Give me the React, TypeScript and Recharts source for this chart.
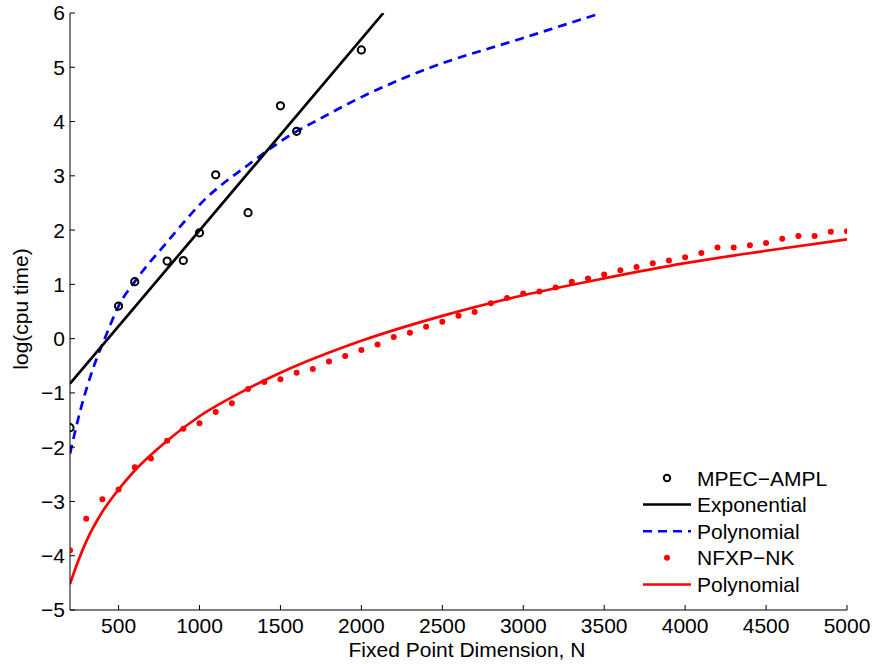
import { ComposedChart, Line, Scatter, XAxis, YAxis, Legend } from 'recharts'

const xTicks = [500, 1000, 1500, 2000, 2500, 3000, 3500, 4000, 4500, 5000]
const yTicks = [-5, -4, -3, -2, -1, 0, 1, 2, 3, 4, 5, 6]

// MPEC-AMPL observations
const mpecN = [200, 500, 600, 800, 900, 1000, 1100, 1300, 1500, 1600, 2000]
const mpecTime = [-1.64, 0.6, 1.05, 1.43, 1.44, 1.95, 3.02, 2.32, 4.29, 3.82, 5.32]

// exponential fit (straight in log scale)
const expFitN = [200, 2136]
const expFitTime = [-0.83, 6]

// polynomial fit for MPEC-AMPL
const mpecPolyN = [200, 264, 346, 428, 500, 600, 800, 1035, 1300, 1600, 1700, 2000, 2238, 2423, 3000, 3472]
const mpecPolyTime = [-2.12, -1.32, -0.52, 0.1, 0.6, 1.05, 1.78, 2.57, 3.2, 3.82, 3.98, 4.45, 4.77, 4.99, 5.54, 5.99]

// NFXP-NK observations
const nfxpN = [
  200, 300, 400, 500, 600, 700, 800, 900, 1000, 1100, 1200, 1300, 1400, 1500, 1600, 1700, 1800,
  1900, 2000, 2100, 2200, 2300, 2400, 2500, 2600, 2700, 2800, 2900, 3000, 3100, 3200, 3300, 3400,
  3500, 3600, 3700, 3800, 3900, 4000, 4100, 4200, 4300, 4400, 4500, 4600, 4700, 4800, 4900, 5000,
]
const nfxpTime = [
  -3.9, -3.32, -2.96, -2.78, -2.37, -2.21, -1.88, -1.66, -1.56, -1.35, -1.19, -0.93, -0.8, -0.75,
  -0.63, -0.56, -0.42, -0.32, -0.21, -0.11, 0.03, 0.11, 0.22, 0.31, 0.42, 0.49, 0.65, 0.75, 0.83,
  0.87, 0.94, 1.05, 1.11, 1.18, 1.26, 1.32, 1.39, 1.44, 1.5, 1.58, 1.68, 1.68, 1.72, 1.76, 1.84,
  1.89, 1.89, 1.97, 1.98,
]

// polynomial fit for NFXP-NK
const nfxpPolyN = [200, 250, 300, 400, 500, 600, 800, 1000, 1250, 1500, 2000, 2500, 3000, 3500, 4000, 4500, 5000]
const nfxpPolyTime = [-4.52, -4.1, -3.74, -3.19, -2.78, -2.43, -1.88, -1.43, -1.0, -0.63, -0.04, 0.42, 0.8, 1.11, 1.39, 1.62, 1.83]

const FONT = '"Liberation Sans", Arial, Helvetica, sans-serif'

const toPoints = (ns: number[], ts: number[]) => ns.map((n, i) => ({ n, t: ts[i] }))

const fmt = (v: number) => (v < 0 ? '\u2212' + Math.abs(v) : String(v))

const OpenCircle = (props: any) => (
  <circle cx={props.cx} cy={props.cy} r={3.6} fill="none" stroke="#000" strokeWidth={2} />
)

const RedDot = (props: any) => <circle cx={props.cx} cy={props.cy} r={3} fill="#ff0000" />

const legendRows = [
  { label: 'MPEC\u2212AMPL', kind: 'circle', color: '#000' },
  { label: 'Exponential', kind: 'line', color: '#000' },
  { label: 'Polynomial', kind: 'dash', color: '#0000ff' },
  { label: 'NFXP\u2212NK', kind: 'dot', color: '#ff0000' },
  { label: 'Polynomial', kind: 'line', color: '#ff0000' },
]

const LegendBox = () => (
  <svg width={230} height={140} style={{ display: 'block' }}>
    {legendRows.map((r, i) => {
      const y = 16 + i * 26.6
      return (
        <g key={i}>
          {r.kind === 'circle' && <circle cx={37} cy={y} r={3.2} fill="none" stroke={r.color} strokeWidth={2} />}
          {r.kind === 'dot' && <circle cx={37} cy={y} r={3} fill={r.color} />}
          {r.kind === 'line' && <line x1={13} x2={61} y1={y} y2={y} stroke={r.color} strokeWidth={2.5} />}
          {r.kind === 'dash' && (
            <line x1={13} x2={61} y1={y} y2={y} stroke={r.color} strokeWidth={2.5} strokeDasharray="9 6" />
          )}
          <text x={67} y={y} dominantBaseline="central" fontSize={21} fontFamily={FONT} fill="#000">
            {r.label}
          </text>
        </g>
      )
    })}
  </svg>
)

export default function App() {
  return (
    <div style={{ position: 'absolute', left: 0, top: 0, background: '#fff' }}>
      <ComposedChart width={875} height={664} margin={{ top: 13, right: 28, bottom: 28, left: 30 }}>
        <XAxis
          type="number"
          dataKey="n"
          domain={[200, 5000]}
          ticks={xTicks}
          allowDataOverflow
          height={26}
          tickSize={-5}
          tickMargin={13}
          stroke="#000"
          tick={{ fill: '#000', fontSize: 21, fontFamily: FONT }}
          label={{
            content: () => (
              <text x={467} y={657} textAnchor="middle" fontSize={21} fontFamily={FONT} fill="#000">
                Fixed Point Dimension, N
              </text>
            ),
          }}
        />
        <YAxis
          type="number"
          dataKey="t"
          domain={[-5, 6]}
          ticks={yTicks}
          allowDataOverflow
          width={40}
          tickSize={-5}
          tickMargin={10}
          stroke="#000"
          tickFormatter={fmt}
          tick={{ fill: '#000', fontSize: 21, fontFamily: FONT }}
          label={{
            content: () => (
              <text
                x={28}
                y={309}
                transform="rotate(-90 28 309)"
                textAnchor="middle"
                fontSize={21}
                fontFamily={FONT}
                fill="#000"
              >
                log(cpu time)
              </text>
            ),
          }}
        />
        <Line
          data={toPoints(mpecPolyN, mpecPolyTime)}
          dataKey="t"
          type="monotone"
          stroke="#0000ff"
          strokeWidth={2.7}
          strokeDasharray="9 6"
          dot={false}
          activeDot={false}
          isAnimationActive={false}
        />
        <Line
          data={toPoints(expFitN, expFitTime)}
          dataKey="t"
          type="linear"
          stroke="#000"
          strokeWidth={2.7}
          dot={false}
          activeDot={false}
          isAnimationActive={false}
        />
        <Line
          data={toPoints(nfxpPolyN, nfxpPolyTime)}
          dataKey="t"
          type="monotone"
          stroke="#ff0000"
          strokeWidth={2.7}
          dot={false}
          activeDot={false}
          isAnimationActive={false}
        />
        <Scatter data={toPoints(nfxpN, nfxpTime)} dataKey="t" shape={RedDot} isAnimationActive={false} />
        <Scatter data={toPoints(mpecN, mpecTime)} dataKey="t" shape={OpenCircle} isAnimationActive={false} />
        <Legend
          layout="horizontal"
          align="center"
          verticalAlign="middle"
          content={() => <LegendBox />}
          wrapperStyle={{ left: 630, top: 462, width: 230, height: 140 }}
        />
      </ComposedChart>
    </div>
  )
}
